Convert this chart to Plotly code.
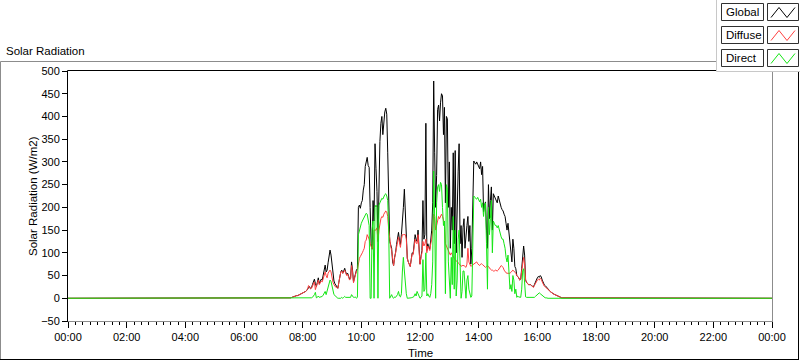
import plotly.graph_objects as go

# ---------------- data ----------------
T_START_MIN = 450      # first sample of the active part of the day (07:30)
T_STEP_MIN = 2         # sample interval, minutes

global_day = [
    0, 0, 0, 1, 2, 3, 4, 4, 5, 6,
    6, 7, 8, 9, 10, 11, 12, 13, 15, 17,
    20, 24, 26, 21, 23, 30, 38, 42, 32, 26,
    35, 45, 32, 38, 42, 40, 52, 62, 73, 58,
    62, 78, 92, 106, 95, 70, 48, 38, 32, 28,
    24, 22, 35, 50, 58, 62, 55, 60, 66, 58,
    52, 55, 48, 42, 45, 80, 62, 36, 45, 55,
    62, 65, 200, 205, 198, 210, 215, 238, 250, 290,
    300, 310, 292, 288, 200, 120, 108, 215, 170, 340,
    285, 235, 125, 300, 345, 385, 400, 360, 395, 410,
    418, 405, 320, 195, 125, 118, 110, 80, 72, 90,
    100, 118, 132, 145, 128, 118, 140, 165, 200, 240,
    190, 150, 88, 80, 72, 70, 85, 100, 98, 120,
    140, 130, 125, 150, 108, 75, 92, 105, 215, 130,
    140, 385, 105, 120, 112, 108, 128, 150, 210, 478,
    320, 200, 270, 415, 425, 390, 430, 450, 445, 360,
    420, 210, 400, 395, 200, 300, 110, 200, 150, 320,
    120, 325, 100, 230, 278, 340, 120, 160, 90, 155,
    175, 110, 150, 160, 180, 125, 160, 75, 110, 240,
    302, 298, 295, 300, 295, 290, 285, 300, 272, 290,
    190, 205, 212, 150, 110, 250, 175, 215, 245, 150,
    230, 225, 220, 215, 210, 225, 215, 205, 200, 195,
    192, 185, 180, 165, 150, 165, 140, 120, 100, 80,
    130, 110, 70, 65, 50, 48, 45, 40, 42, 65,
    100, 115, 95, 40, 35, 32, 30, 30, 30, 28,
    27, 25, 30, 36, 40, 45, 48, 46, 50, 47,
    40, 34, 30, 28, 26, 24, 22, 18, 15, 13,
    11, 10, 9, 8, 7, 5, 4, 3, 2, 2,
    1, 1, 1, 0, 0, 0, 0, 0, 0, 0,
]

diffuse_day = [
    0, 0, 0, 1, 2, 3, 4, 4, 5, 6,
    6, 7, 8, 9, 10, 11, 12, 13, 15, 17,
    20, 28, 24, 21, 22, 28, 34, 36, 19, 25,
    33, 40, 30, 35, 38, 36, 45, 52, 58, 50,
    45, 55, 60, 62, 58, 45, 35, 30, 26, 24,
    24, 22, 35, 50, 58, 60, 55, 58, 62, 56,
    50, 53, 46, 40, 43, 72, 58, 34, 43, 52,
    60, 62, 80, 88, 92, 95, 100, 105, 110, 125,
    128, 140, 135, 130, 120, 112, 108, 118, 150, 150,
    150, 155, 125, 150, 165, 175, 180, 178, 185, 190,
    192, 190, 180, 150, 125, 115, 105, 80, 72, 88,
    98, 112, 125, 135, 122, 112, 130, 140, 140, 140,
    140, 130, 88, 80, 72, 70, 84, 98, 96, 115,
    130, 122, 120, 140, 105, 75, 90, 100, 125, 115,
    120, 130, 100, 115, 110, 105, 120, 130, 150, 185,
    180, 150, 160, 175, 180, 175, 180, 185, 180, 170,
    165, 120, 115, 110, 105, 100, 95, 100, 95, 90,
    88, 85, 82, 80, 78, 76, 74, 70, 72, 72,
    72, 70, 68, 75, 110, 80, 72, 70, 72, 74,
    75, 76, 78, 80, 76, 74, 72, 75, 76, 74,
    72, 70, 68, 70, 72, 70, 66, 64, 62, 62,
    60, 60, 62, 60, 60, 62, 65, 70, 72, 70,
    68, 62, 58, 56, 55, 55, 56, 55, 57, 60,
    62, 60, 58, 55, 50, 48, 45, 40, 42, 60,
    80, 90, 75, 40, 35, 32, 30, 30, 30, 28,
    26, 24, 28, 33, 36, 40, 42, 40, 44, 42,
    36, 30, 27, 25, 23, 22, 20, 17, 14, 12,
    11, 10, 9, 8, 7, 5, 4, 3, 2, 2,
    1, 1, 1, 0, 0, 0, 0, 0, 0, 0,
]

direct_day = [
    0, 0, 0, 0, 0, 0, 0, 0, 0, 0,
    0, 0, 0, 0, 0, 0, 0, 0, 0, 1,
    0, 0, 1, 0, 1, 2, 4, 8, 13, 1,
    2, 5, 2, 3, 4, 4, 7, 10, 15, 8,
    17, 23, 32, 40, 37, 25, 13, 8, 6, 4,
    0, 0, 0, 0, 0, 2, 0, 2, 4, 2,
    2, 2, 2, 2, 2, 8, 4, 2, 2, 3,
    0, 2, 140, 150, 160, 165, 170, 175, 178, 182,
    187, 185, 168, 160, 0, 0, 150, 170, 0, 200,
    205, 200, 0, 205, 210, 215, 220, 218, 225, 228,
    230, 225, 215, 150, 0, 5, 8, 2, 0, 3,
    2, 5, 8, 15, 5, 3, 10, 60, 90, 60,
    30, 10, 0, 0, 0, 0, 1, 2, 2, 5,
    10, 5, 15, 10, 2, 0, 2, 5, 85, 15,
    20, 100, 5, 10, 5, 2, 10, 30, 80, 280,
    180, 0, 210, 245, 250, 235, 255, 250, 200, 160,
    170, 10, 250, 240, 80, 40, 0, 90, 30, 180,
    20, 150, 5, 40, 130, 150, 30, 0, 15, 60,
    60, 25, 0, 40, 50, 20, 8, 2, 5, 120,
    225, 222, 220, 218, 222, 215, 212, 218, 200, 210,
    180, 205, 210, 120, 20, 200, 140, 175, 215, 100,
    170, 165, 160, 160, 155, 160, 150, 140, 135, 130,
    130, 120, 110, 90, 80, 95, 40, 20, 30, 15,
    50, 40, 10, 20, 2, 5, 3, 2, 2, 20,
    60, 65, 40, 3, 2, 2, 1, 1, 1, 1,
    1, 1, 2, 4, 6, 8, 10, 12, 10, 8,
    5, 3, 2, 1, 1, 0, 0, 0, 0, 0,
    0, 0, 0, 0, 0, 0, 0, 0, 0, 0,
    0, 0, 0, 0, 0, 0, 0, 0, 0, 0,
]

series_names = ["Global", "Diffuse", "Direct"]
series_colors = ["#000000", "#ff4040", "#14e614"]

x_tick_hours = [0, 2, 4, 6, 8, 10, 12, 14, 16, 18, 20, 22, 24]
x_tick_labels = ["00:00", "02:00", "04:00", "06:00", "08:00", "10:00", "12:00",
                 "14:00", "16:00", "18:00", "20:00", "22:00", "00:00"]
y_ticks = [-50, 0, 50, 100, 150, 200, 250, 300, 350, 400, 450, 500]

# ---------------- build full-day series ----------------
day_minutes = [T_START_MIN + T_STEP_MIN * i for i in range(len(global_day))]
hours = [0.0] + [m / 60.0 for m in day_minutes] + [24.0]


def full(values):
    return [0] + list(values) + [0]


FONT = "Liberation Sans"
W, H = 800, 361
PX0, PX1, PY0, PY1 = 68, 772, 71, 321   # plot area in pixels


def px(x):
    return (x - PX0) / (PX1 - PX0)


def py(y):
    return (PY1 - y) / (PY1 - PY0)


fig = go.Figure()
for name, vals, col in zip(series_names, [global_day, diffuse_day, direct_day], series_colors):
    fig.add_trace(go.Scatter(x=hours, y=full(vals), mode="lines", name=name,
                             line=dict(color=col, width=1), showlegend=False,
                             hoverinfo="skip"))

shapes = []


def line(x0, y0, x1, y1, color, width=1):
    shapes.append(dict(type="line", xref="paper", yref="paper",
                       x0=px(x0), y0=py(y0), x1=px(x1), y1=py(y1),
                       line=dict(color=color, width=width), layer="above"))


def rect(x0, y0, x1, y1, color, fill="white", width=1):
    shapes.append(dict(type="rect", xref="paper", yref="paper",
                       x0=px(x0), y0=py(y0), x1=px(x1), y1=py(y1),
                       line=dict(color=color, width=width), fillcolor=fill,
                       layer="above"))


# outer frame (3D style)
line(0.5, 61.5, 720, 61.5, "#8c8c8c")
line(0.5, 61.5, 0.5, 360, "#8c8c8c")
line(0, 359.5, 799, 359.5, "#000000")
line(798.5, 70, 798.5, 360, "#000000")

# plot area border
line(67.5, 321.5, 772.5, 321.5, "#8c8c8c")
line(772.5, 70.5, 772.5, 322, "#8c8c8c")
line(67.5, 70.5, 772.5, 70.5, "#000000")
line(67.5, 70.5, 67.5, 322, "#000000")

# legend panel
rect(716.5, -2, 802, 71.5, "#c8c8c8")
annotations = []
rows_top = [3.5, 26.5, 49.5]
for name, col, top in zip(series_names, series_colors, rows_top):
    bot = top + 17
    rect(721.5, top, 763.5, bot, "#303030")
    rect(767.5, top, 798.5, bot, "#303030")
    zz = [(771, bot - 3), (779, top + 4), (787, bot - 3), (795, top + 4)]
    path = "M " + " L ".join(f"{px(a)},{py(b)}" for a, b in zz)
    shapes.append(dict(type="path", xref="paper", yref="paper", path=path,
                       line=dict(color=col, width=1), layer="above"))
    annotations.append(dict(xref="paper", yref="paper", x=px(724), y=py((top + bot) / 2),
                            text=name, showarrow=False, xanchor="left", yanchor="middle",
                            font=dict(family=FONT, size=11.5, color="#000000")))

annotations.append(dict(xref="paper", yref="paper", x=px(4), y=py(51), text="Solar Radiation",
                        showarrow=False, xanchor="left", yanchor="middle",
                        font=dict(family=FONT, size=11.5, color="#000000")))
annotations.append(dict(xref="paper", yref="paper", x=px(420), y=py(353), text="Time",
                        showarrow=False, xanchor="center", yanchor="middle",
                        font=dict(family=FONT, size=11.5, color="#000000")))
annotations.append(dict(xref="paper", yref="paper", x=px(33), y=py(196),
                        text="Solar Radiation (W/m2)", textangle=-90,
                        showarrow=False, xanchor="center", yanchor="middle",
                        font=dict(family=FONT, size=11.5, color="#000000")))

fig.update_layout(
    width=W, height=H,
    margin=dict(l=PX0, r=W - PX1, t=PY0, b=H - PY1),
    paper_bgcolor="white", plot_bgcolor="white",
    shapes=shapes, annotations=annotations,
    font=dict(family=FONT, size=11, color="#000000"),
    xaxis=dict(range=[0, 24], tickmode="array", tickvals=x_tick_hours,
               ticktext=x_tick_labels, ticks="outside", ticklen=6,
               tickcolor="#000000", showgrid=False, zeroline=False,
               showline=False, fixedrange=True,
               minor=dict(tickmode="linear", tick0=0, dtick=0.25,
                          ticks="outside", ticklen=3, tickcolor="#000000",
                          showgrid=False),
               tickfont=dict(family=FONT, size=11)),
    yaxis=dict(range=[-50, 500], tickmode="array", tickvals=y_ticks,
               ticks="outside", ticklen=5, tickcolor="#000000",
               showgrid=False, zeroline=False, showline=False, fixedrange=True,
               tickfont=dict(family=FONT, size=11)),
)

fig.write_html("out.html",
               config={"displayModeBar": False, "staticPlot": True},
               post_script="document.body.style.margin='0px';"
                           "document.body.style.overflow='hidden';")
